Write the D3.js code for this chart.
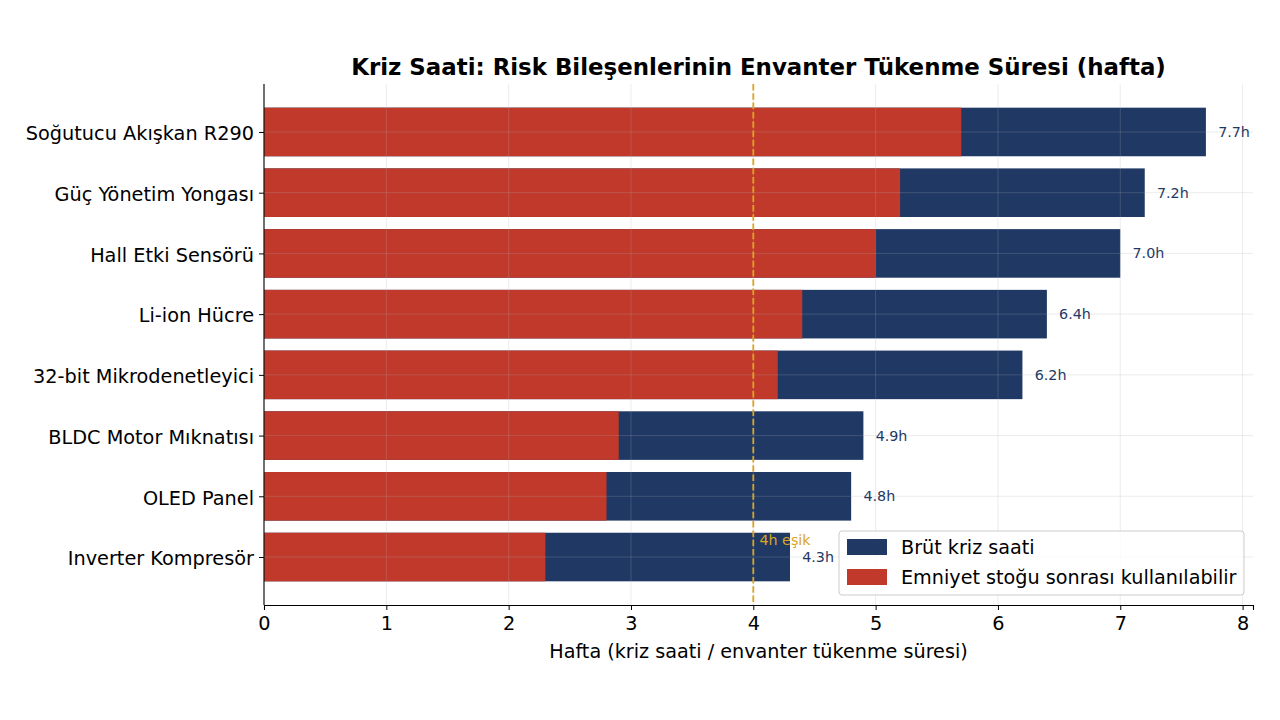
<!DOCTYPE html>
<html>
<head>
<meta charset="utf-8">
<script src="https://cdn.jsdelivr.net/npm/d3@7"></script>
<style>
  body { margin: 0; background: #fff; }
  text { font-family: "DejaVu Sans", sans-serif; }
</style>
</head>
<body>
<div id="chart"></div>
<script>
// data
var components = ["Soğutucu Akışkan R290", "Güç Yönetim Yongası", "Hall Etki Sensörü",
  "Li-ion Hücre", "32-bit Mikrodenetleyici", "BLDC Motor Mıknatısı", "OLED Panel", "Inverter Kompresör"];
var grossWeeks = [7.7, 7.2, 7.0, 6.4, 6.2, 4.9, 4.8, 4.3];
var usableWeeks = [5.7, 5.2, 5.0, 4.4, 4.2, 2.9, 2.8, 2.3];
var xTicks = [0, 1, 2, 3, 4, 5, 6, 7, 8];
var threshold = 4;
var seriesNames = ["Brüt kriz saati", "Emniyet stoğu sonrası kullanılabilir"];

var navy = "#1f3864", red = "#c0392b", gold = "#daa520";

var margin = {top: 84, right: 27, bottom: 115, left: 264},
    width = 1280 - margin.left - margin.right,
    height = 720 - margin.top - margin.bottom;

var svg = d3.select("#chart")
  .append("svg")
    .attr("width", 1280)
    .attr("height", 720)
  .append("g")
    .attr("transform", "translate(" + margin.left + "," + margin.top + ")");

var x = d3.scaleLinear()
  .domain([0, d3.max(grossWeeks) * 1.05])
  .range([0, width]);

// matplotlib-like y: categories at 0..n-1, bars 0.8 tall, 5% margins
var n = components.length;
var lo = -0.4, hi = n - 1 + 0.4, pad = (hi - lo) * 0.05;
var y = d3.scaleLinear()
  .domain([lo - pad, hi + pad])
  .range([0, height]);

// gross bars
svg.selectAll(".gross")
  .data(grossWeeks)
  .enter().append("rect")
    .attr("x", x(0))
    .attr("y", function(d, i) { return y(i - 0.4); })
    .attr("width", function(d) { return x(d) - x(0); })
    .attr("height", y(0.8) - y(0))
    .attr("fill", navy);

// usable bars
svg.selectAll(".usable")
  .data(usableWeeks)
  .enter().append("rect")
    .attr("x", x(0))
    .attr("y", function(d, i) { return y(i - 0.4); })
    .attr("width", function(d) { return x(d) - x(0); })
    .attr("height", y(0.8) - y(0))
    .attr("fill", red);

// grid on top
svg.append("g")
  .selectAll("line")
  .data(xTicks)
  .enter().append("line")
    .attr("x1", function(d) { return x(d); })
    .attr("x2", function(d) { return x(d); })
    .attr("y1", 0).attr("y2", height)
    .attr("stroke", "#b0b0b0").attr("stroke-opacity", 0.3).attr("stroke-width", 0.8);
svg.append("g")
  .selectAll("line")
  .data(components)
  .enter().append("line")
    .attr("x1", 0).attr("x2", width)
    .attr("y1", function(d, i) { return y(i); })
    .attr("y2", function(d, i) { return y(i); })
    .attr("stroke", "#b0b0b0").attr("stroke-opacity", 0.3).attr("stroke-width", 0.8);

// value labels
svg.selectAll(".val")
  .data(grossWeeks)
  .enter().append("text")
    .attr("x", function(d) { return x(d + 0.1); })
    .attr("y", function(d, i) { return y(i); })
    .attr("dy", "0.35em")
    .attr("font-size", "14.3px")
    .attr("fill", navy)
    .text(function(d) { return d.toFixed(1) + "h"; });

// threshold
svg.append("line")
  .attr("x1", x(threshold)).attr("x2", x(threshold))
  .attr("y1", 0).attr("y2", height)
  .attr("stroke", gold).attr("stroke-width", 1.8)
  .attr("stroke-dasharray", "6.5,2.8");
svg.append("text")
  .attr("x", x(threshold + 0.05))
  .attr("y", y(n - 1 - 0.28))
  .attr("dy", "0.35em")
  .attr("font-size", "14.3px")
  .attr("fill", gold)
  .text("4h eşik");

// axes
var xAxis = svg.append("g")
  .attr("transform", "translate(0," + height + ")")
  .call(d3.axisBottom(x).tickValues(xTicks).tickSizeOuter(0).tickSize(5).tickPadding(6));
var yAxis = svg.append("g")
  .call(d3.axisLeft(y).tickValues(d3.range(n)).tickFormat(function(i) { return components[i]; })
    .tickSizeOuter(0).tickSize(5).tickPadding(5));
[xAxis, yAxis].forEach(function(a) {
  a.select(".domain").attr("stroke", "#000").attr("stroke-width", 1.1);
  a.selectAll(".tick line").attr("stroke", "#000").attr("stroke-width", 1);
  a.selectAll("text").attr("font-size", "19.3px").attr("font-family", "DejaVu Sans").attr("fill", "#000");
});
yAxis.selectAll(".tick text").attr("dy", "0.4em");
yAxis.select(".domain").attr("d", "M0," + height + "V0");

svg.append("text")
  .attr("x", width / 2)
  .attr("y", height + 53)
  .attr("text-anchor", "middle")
  .attr("font-size", "19.2px")
  .text("Hafta (kriz saati / envanter tükenme süresi)");

svg.append("text")
  .attr("x", width / 2)
  .attr("y", -9)
  .attr("text-anchor", "middle")
  .attr("font-size", "22.9px")
  .attr("font-weight", "bold")
  .text("Kriz Saati: Risk Bileşenlerinin Envanter Tükenme Süresi (hafta)");

// legend
var lg = svg.append("g").attr("transform", "translate(" + (width - 414) + "," + (height - 74) + ")");
lg.append("rect")
  .attr("width", 405).attr("height", 64).attr("rx", 3)
  .attr("fill", "#fff").attr("fill-opacity", 0.8)
  .attr("stroke", "#cccccc");
[navy, red].forEach(function(c, i) {
  lg.append("rect")
    .attr("x", 8).attr("y", 8 + i * 30)
    .attr("width", 40).attr("height", 16)
    .attr("fill", c);
  lg.append("text")
    .attr("x", 62).attr("y", 16 + i * 30)
    .attr("dy", "0.35em")
    .attr("font-size", "19.2px")
    .text(seriesNames[i]);
});
</script>
</body>
</html>
